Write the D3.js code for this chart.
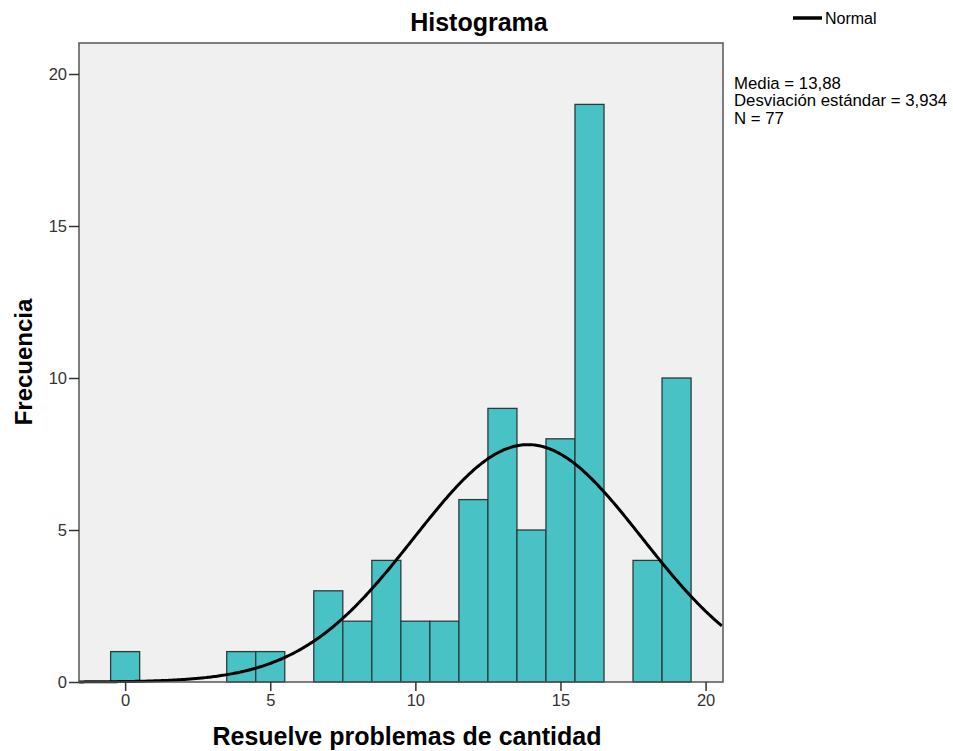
<!DOCTYPE html>
<html><head><meta charset="utf-8">
<script src="https://cdn.jsdelivr.net/npm/d3@7"></script>
<style>body{margin:0;background:#fff}svg{display:block}text{font-family:"Liberation Sans",Arial,sans-serif}</style>
</head><body>
<svg id="c" width="953" height="751"></svg>
<script>
const binCenters = [0, 4, 5, 7, 8, 9, 10, 11, 12, 13, 14, 15, 16, 18, 19];
const frequencies = [1, 1, 1, 3, 2, 4, 2, 2, 6, 9, 5, 8, 19, 4, 10];
const xTicks = [0, 5, 10, 15, 20];
const yTicks = [0, 5, 10, 15, 20];
const stats = {mean: 13.88, sd: 3.934, n: 77};
const statLines = ["Media = 13,88", "Desviación estándar = 3,934", "N = 77"];

const svg = d3.select("#c");
const L = 79, R = 723, T = 43, B = 682;
const x = d3.scaleLinear().domain([-1.59, 20.6]).range([L, R]);
const y = d3.scaleLinear().domain([0, 21.02]).range([B, T]);

svg.append("rect").attr("x", L).attr("y", T).attr("width", R - L).attr("height", B - T).attr("fill", "#f0f0f0");

svg.append("g").selectAll("rect").data(binCenters).join("rect")
  .attr("x", (d) => x(d - 0.5)).attr("width", (d) => x(d + 0.5) - x(d - 0.5))
  .attr("y", (d, i) => y(frequencies[i])).attr("height", (d, i) => y(0) - y(frequencies[i]))
  .attr("fill", "#48c2c5").attr("stroke", "#2b3b3c").attr("stroke-width", 1.3);

// Normal curve from stated mean, sd, N (bin width 1)
const xs = d3.range(-1.59, 20.61, 0.05);
const pdf = (v) => stats.n * Math.exp(-0.5 * ((v - stats.mean) / stats.sd) ** 2) / (stats.sd * Math.sqrt(2 * Math.PI));
svg.append("path").datum(xs)
  .attr("d", d3.line().x((d) => x(d)).y((d) => y(pdf(d))))
  .attr("fill", "none").attr("stroke", "#000").attr("stroke-width", 3);

svg.append("rect").attr("x", L).attr("y", T).attr("width", R - L).attr("height", B - T)
  .attr("fill", "none").attr("stroke", "#555").attr("stroke-width", 1.5);

const xa = svg.append("g").attr("transform", `translate(0,${B})`)
  .call(d3.axisBottom(x).tickValues(xTicks).tickSize(9).tickPadding(3).tickFormat(d3.format("d")));
xa.select(".domain").remove();
const ya = svg.append("g").attr("transform", `translate(${L},0)`)
  .call(d3.axisLeft(y).tickValues(yTicks).tickSize(10).tickPadding(2).tickFormat(d3.format("d")));
ya.select(".domain").remove();
svg.selectAll(".tick line").attr("stroke", "#333").attr("stroke-width", 1.5);
svg.selectAll(".tick text").attr("font-size", 16.5).attr("fill", "#333").attr("font-family", "Liberation Sans, Arial, sans-serif");

svg.append("text").attr("x", 479).attr("y", 31).attr("text-anchor", "middle")
  .attr("font-size", 25).attr("font-weight", "bold").text("Histograma");
svg.append("text").attr("x", 407).attr("y", 745).attr("text-anchor", "middle")
  .attr("font-size", 25).attr("font-weight", "bold").text("Resuelve problemas de cantidad");
svg.append("text").attr("transform", "translate(32,362) rotate(-90)").attr("text-anchor", "middle")
  .attr("font-size", 24).attr("font-weight", "bold").text("Frecuencia");

svg.append("line").attr("x1", 793).attr("x2", 822).attr("y1", 18).attr("y2", 18).attr("stroke", "#000").attr("stroke-width", 3.5);
svg.append("text").attr("x", 825).attr("y", 24).attr("font-size", 16).text("Normal");

svg.append("text").attr("x", 734).attr("y", 89).attr("font-size", 16.8)
  .selectAll("tspan").data(statLines).join("tspan")
  .attr("x", 734).attr("dy", (d, i) => (i === 0 ? 0 : 17.3)).text((d) => d);
</script>
</body></html>
